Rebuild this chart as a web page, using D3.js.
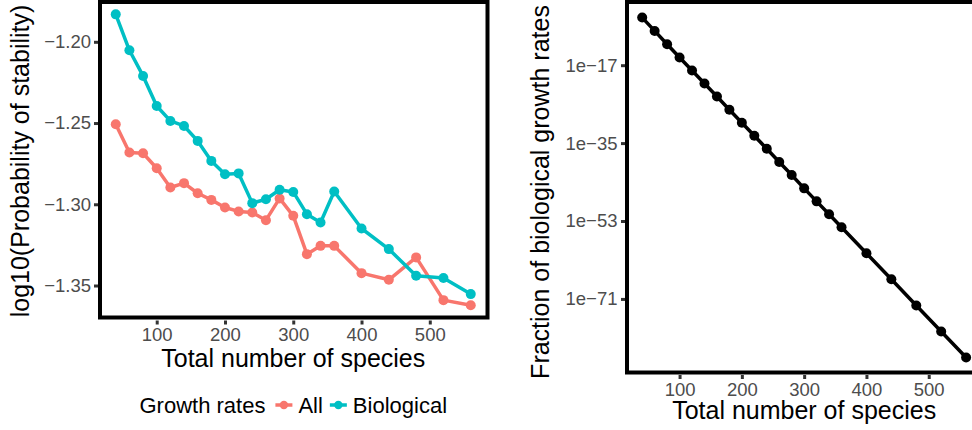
<!doctype html>
<html lang="en">
	<head>
		<meta charset="UTF-8" />
		<title>Stability vs number of species</title>
		<script src="https://d3js.org/d3.v7.min.js"></script>
		<style>
			body {
				margin: 0;
				background: #fff;
			}
			svg {
				font-family: 'Liberation Sans', Arial, Helvetica, sans-serif;
			}
			.tick text {
				fill: #4d4d4d;
				font-size: 18.5px;
			}
			.tick line {
				stroke: #333;
				stroke-width: 3px;
			}
			.title {
				font-size: 25px;
				fill: #000;
			}
			.legend text {
				font-size: 22px;
				fill: #000;
			}
		</style>
	</head>
	<body>
		<svg width="972" height="430"></svg>
		<script>
			// number of species on the x axis (both panels)
			const species = [40, 60, 80, 100, 120, 140, 160, 180, 200, 220, 240, 260, 280, 300, 320, 340, 360, 400, 440, 480, 520, 560]

			// log10(probability of stability), growth rates = All
			const allRates = [-1.2507, -1.2681, -1.2686, -1.2778, -1.2897, -1.287, -1.2932, -1.2973, -1.302, -1.3044, -1.3051, -1.3098, -1.2964, -1.3071, -1.3307, -1.3256, -1.3256, -1.3424, -1.3465, -1.3327, -1.359, -1.3621]

			// log10(probability of stability), growth rates = Biological
			const bioRates = [-1.1831, -1.2052, -1.221, -1.2395, -1.2487, -1.2518, -1.261, -1.2733, -1.2815, -1.281, -1.2993, -1.2969, -1.2911, -1.2924, -1.3061, -1.3112, -1.2921, -1.3149, -1.3276, -1.344, -1.3454, -1.3553]

			// fraction of biological growth rates (right panel)
			const fracBio = [1.0e-6, 8.3e-10, 7.1e-13, 5.9e-16, 5.9e-19, 5.9e-22, 5.9e-25, 4.9e-28, 4.9e-31, 4.9e-34, 4.9e-37, 4.2e-40, 4.2e-43, 3.5e-46, 3.5e-49, 3.5e-52, 3.5e-55, 3.5e-61, 3.5e-67, 2.9e-73, 2.9e-79, 2.9e-85]

			const xTicks = [100, 200, 300, 400, 500]
			const leftTicks = [-1.2, -1.25, -1.3, -1.35]
			const rightTicks = [1e-17, 1e-35, 1e-53, 1e-71]

			const seriesNames = ['All', 'Biological']
			const colors = ['#F8766D', '#00BFC4']

			const svg = d3.select('svg')

			// ---------- left panel ----------
			const xL = d3.scaleLinear().domain([14, 586]).range([98, 488.5])
			const yL = d3.scaleLinear().domain([-1.1755, -1.37]).range([2, 318])

			const left = svg.append('g')

			const series = [allRates, bioRates].map((vals, i) => ({
				name: seriesNames[i],
				color: colors[i],
				points: species.map((s, j) => ({ x: s, y: vals[j] })),
			}))

			const lineL = d3
				.line()
				.x((d) => xL(d.x))
				.y((d) => yL(d.y))

			const sg = left
				.selectAll('g.series')
				.data(series)
				.join('g')
				.attr('class', 'series')

			sg.append('path')
				.attr('d', (d) => lineL(d.points))
				.attr('fill', 'none')
				.attr('stroke', (d) => d.color)
				.attr('stroke-width', 3.5)
				.attr('stroke-linejoin', 'round')

			sg.selectAll('circle')
				.data((d) => d.points.map((p) => ({ ...p, color: d.color })))
				.join('circle')
				.attr('cx', (d) => xL(d.x))
				.attr('cy', (d) => yL(d.y))
				.attr('r', 5)
				.attr('fill', (d) => d.color)

			left.append('rect')
				.attr('x', xL.range()[0] + 2)
				.attr('y', yL.range()[0])
				.attr('width', xL.range()[1] - xL.range()[0] - 3)
				.attr('height', yL.range()[1] - yL.range()[0] - 0.5)
				.attr('fill', 'none')
				.attr('stroke', '#000')
				.attr('stroke-width', 4)

			left.append('g')
				.attr('transform', `translate(${xL.range()[0]},0)`)
				.call(d3.axisLeft(yL).tickValues(leftTicks).tickFormat(d3.format('.2f')).tickSize(4).tickPadding(3))
				.call((g) => g.select('.domain').remove())

			left.append('g')
				.attr('transform', `translate(0,${yL.range()[1] + 2.5})`)
				.call(d3.axisBottom(xL).tickValues(xTicks).tickSize(4).tickPadding(3.5))
				.call((g) => g.select('.domain').remove())

			left.append('text')
				.attr('class', 'title')
				.attr('x', (xL.range()[0] + xL.range()[1]) / 2)
				.attr('y', 366.5)
				.attr('text-anchor', 'middle')
				.text('Total number of species')

			left.append('text')
				.attr('class', 'title')
				.attr('transform', 'translate(29,161) rotate(-90)')
				.attr('text-anchor', 'middle')
				.text('log10(Probability of stability)')

			// legend
			const legend = svg.append('g').attr('class', 'legend')
			const lgTitle = legend.append('text').attr('x', 0).attr('y', 0).text('Growth rates')
			let cx = lgTitle.node().getComputedTextLength() + 10
			series.forEach((s) => {
				legend.append('line')
					.attr('x1', cx)
					.attr('x2', cx + 17)
					.attr('y1', -8)
					.attr('y2', -8)
					.attr('stroke', s.color)
					.attr('stroke-width', 3.5)
				legend.append('circle')
					.attr('cx', cx + 8.5)
					.attr('cy', -8)
					.attr('r', 4.2)
					.attr('fill', s.color)
				const t = legend.append('text').attr('x', cx + 23).attr('y', 0).text(s.name)
				cx += 23 + t.node().getComputedTextLength() + 7
			})
			const lgWidth = cx - 7
			legend.attr('transform', `translate(${(xL.range()[0] + xL.range()[1]) / 2 - lgWidth / 2},413)`)

			// ---------- right panel ----------
			const xR = d3.scaleLinear().domain([14, 586]).range([626, 982.3])
			const yR = d3.scaleLog().domain([Math.pow(10, -2.4), 1e-88]).range([2, 372.5])

			const right = svg.append('g')
			const fracPts = species.map((s, j) => ({ x: s, y: fracBio[j] }))

			right.append('path')
				.attr(
					'd',
					d3
						.line()
						.x((d) => xR(d.x))
						.y((d) => yR(d.y))(fracPts)
				)
				.attr('fill', 'none')
				.attr('stroke', '#000')
				.attr('stroke-width', 3.5)

			right.selectAll('circle')
				.data(fracPts)
				.join('circle')
				.attr('cx', (d) => xR(d.x))
				.attr('cy', (d) => yR(d.y))
				.attr('r', 5)
				.attr('fill', '#000')

			right.append('rect')
				.attr('x', xR.range()[0] + 1)
				.attr('y', yR.range()[0])
				.attr('width', 360)
				.attr('height', yR.range()[1] - yR.range()[0])
				.attr('fill', 'none')
				.attr('stroke', '#000')
				.attr('stroke-width', 4)

			right.append('g')
				.attr('transform', `translate(${xR.range()[0] - 1},0)`)
				.call(
					d3
						.axisLeft(yR)
						.tickValues(rightTicks)
						.tickFormat((d) => '1e\u2212' + -Math.round(Math.log10(d)))
						.tickSize(4)
						.tickPadding(3.5)
				)
				.call((g) => g.select('.domain').remove())

			right.append('g')
				.attr('transform', `translate(0,${yR.range()[1] + 2.5})`)
				.call(d3.axisBottom(xR).tickValues(xTicks).tickSize(4).tickPadding(4))
				.call((g) => g.select('.domain').remove())

			right.append('text')
				.attr('class', 'title')
				.attr('x', (xR.range()[0] + xR.range()[1]) / 2)
				.attr('y', 419)
				.attr('text-anchor', 'middle')
				.text('Total number of species')

			right.append('text')
				.attr('class', 'title')
				.attr('transform', 'translate(549,192) rotate(-90)')
				.attr('text-anchor', 'middle')
				.text('Fraction of biological growth rates')
		</script>
	</body>
</html>
